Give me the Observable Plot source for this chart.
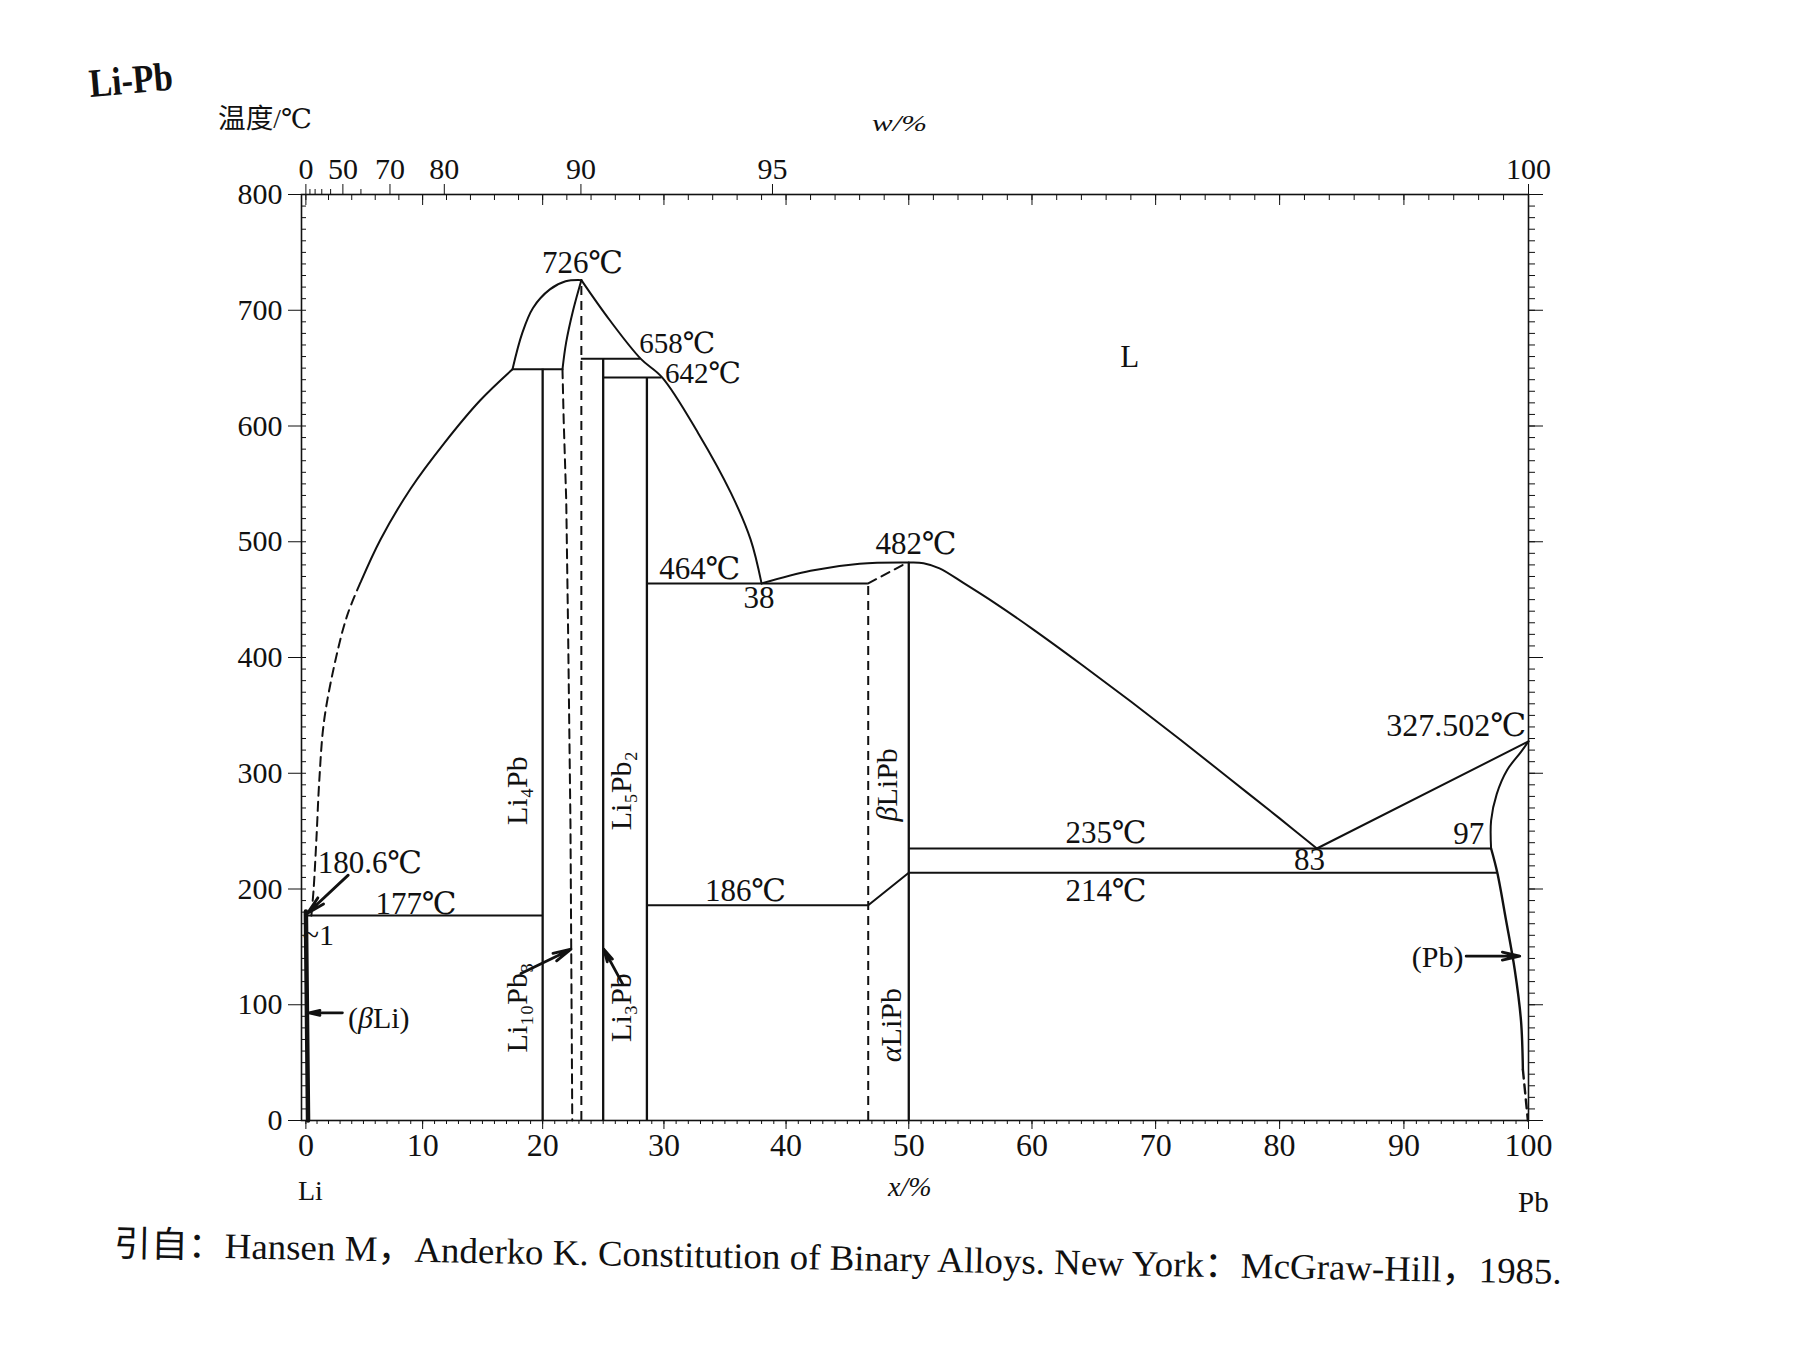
<!DOCTYPE html>
<html><head><meta charset="utf-8">
<script src="https://cdn.jsdelivr.net/npm/d3@7"></script>
<script src="https://cdn.jsdelivr.net/npm/@observablehq/plot@0.6"></script>
<style>
body{margin:0;background:#fff;}
#wrap{position:relative;width:1795px;height:1346px;overflow:hidden;background:#fff;color:#111;}
#wrap svg{position:absolute;left:0;top:0;}
.t{position:absolute;white-space:nowrap;line-height:1;font-family:"Liberation Serif","DejaVu Serif","Noto Sans CJK SC",serif;color:#111;}
</style></head><body><div id="wrap"></div>
<script>
// ---------- axis ticks ----------
const tempTicks = [0, 100, 200, 300, 400, 500, 600, 700, 800];
const atTicks = [0, 10, 20, 30, 40, 50, 60, 70, 80, 90, 100];
const wLabeled = [0, 50, 70, 80, 90, 95, 100];
const wUnlabeled = [10, 20, 30, 40, 60];
const massLi = 6.941, massPb = 207.2;

// ---------- phase boundaries (x = at.% Pb, y = °C) ----------
const liLiquidusDashedX = [0.5, 0.7, 0.95, 1.2, 1.6, 2.5, 3.6, 4.8];
const liLiquidusDashedY = [177, 200, 244, 294, 344, 393, 436, 466];
const liLiquidusX = [4.8, 6.45, 9.0, 11.8, 14.8, 17.5];
const liLiquidusY = [466, 502, 546, 585, 622, 649];
const domeLeftX = [17.5, 18.3, 19.2, 20.6, 21.9, 23.2];
const domeLeftY = [649, 680, 702, 718, 725, 726];
const li7Pb2SolidusX = [21.64, 21.94, 22.52, 23.2];
const li7Pb2SolidusY = [649, 672, 700, 726];
const li7Pb2DashedX = [21.64, 21.74, 21.95, 22.1, 22.3, 22.45];
const li7Pb2DashedY = [649, 605, 536, 427, 256, 0];
const liquidusMidX = [23.2, 25.5, 28.1, 29.85, 32.8, 35.5, 37.1, 38.0];
const liquidusMidY = [726, 692, 658, 642, 594, 542, 502, 464];
const liPbLeftX = [38, 42, 46, 50];
const liPbLeftY = [464, 475, 481, 482];
const liPbRightX = [50, 51.2, 52.5, 54.5, 57, 60, 64, 68, 72, 76, 80, 83];
const liPbRightY = [482, 481.5, 477, 464, 447, 425, 394, 362, 329, 295, 261, 235];
const pbLiquidusX = [83, 100];
const pbLiquidusY = [235, 327.502];
const pbSolidusX = [97, 97.0, 97.45, 98.3, 99.4, 100];
const pbSolidusY = [235, 259, 282, 303, 318.5, 327.502];
const pbSolvusX = [97, 97.5, 98.2, 98.9, 99.4, 99.55];
const pbSolvusY = [235, 214, 173, 130, 86, 44];
const pbSolvusDashedX = [99.55, 99.95];
const pbSolvusDashedY = [44, 0];
const betaLiX = [0.0, 0.2];
const betaLiY = [180.6, 0];
const betaLinkX = [46.7, 49.7];
const betaLinkY = [464, 481];
const alphaBetaX = [46.7, 50];
const alphaBetaY = [186, 214];

// isotherms
const isoT    = [649, 658, 642, 464, 186, 177, 235, 214];
const isoFrom = [17.5, 23.2, 25, 28.6, 28.6, 0, 50, 50];
const isoTo   = [21.64, 28.1, 29.85, 46.7, 46.7, 20, 97, 97.5];
// compounds (solid verticals)
const compoundX   = [20, 25, 28.6, 50];
const compoundTop = [649, 658, 642, 482];
// dashed verticals
const dashVX   = [23.2, 46.7];
const dashVTop = [726, 464];

// ---------- labels ----------
const labelText = ["726℃","658℃","642℃","464℃","38","482℃","L","235℃","214℃","83","97","327.502℃","(Pb)","(βLi)","180.6℃","177℃","~1","186℃"];
const labelX    = [23.3, 31.1, 33.2, 32.95, 37.8, 50.6, 67.9, 66.0, 66.0, 82.4, 95.2, 94.2, 92.7, 6.3, 5.56, 9.44, 1.12, 36.7];
const labelY    = [741, 671.5, 645, 476.5, 451, 498, 659.7, 248.5, 198, 224.7, 247.8, 341, 141, 88, 222.6, 186.7, 160, 198];
const labelSize = [31, 29, 29, 31, 31, 31, 31, 31, 31, 31, 31, 32, 30, 30, 31, 31, 30, 31];
const rotText = ["Li₄Pb", "Li₁₀Pb₃", "Li₃Pb", "Li₅Pb₂", "βLiPb", "αLiPb"];
const rotX    = [17.9, 17.9, 26.5, 26.5, 48.3, 48.6];
const rotY    = [285, 97.6, 97.6, 285, 290, 82.4];
// arrows
const arrowX1 = [3.7, 3.2, 18.2, 26.6, 95.0];
const arrowY1 = [212, 93, 127, 118, 142];
const arrowX2 = [0.15, 0.3, 22.35, 25.05, 99.3];
const arrowY2 = [179, 93, 148, 148, 142];

// ---------- helpers ----------
const serif = '"Liberation Serif","DejaVu Serif","Noto Sans CJK SC",serif';
const pts = (xs, ys) => xs.map((x, i) => ({x, y: ys[i]}));
const wToAt = w => { if (w >= 100) return 100; const a = w / massPb, b = (100 - w) / massLi; return 100 * a / (a + b); };
const wLabelMap = new Map(wLabeled.map(w => [wToAt(w), String(w)]));
const ink = "#111";
const solid = {stroke: ink, strokeWidth: 2};
const dashed = {stroke: ink, strokeWidth: 2, strokeDasharray: "9,6"};
const yMinor = d3.range(0, 801, 10);
const xMinor = d3.range(0, 101, 1);
const topMinor = d3.range(0, 101, 2);

const isoRows = isoT.map((t, i) => ({t, from: isoFrom[i], to: isoTo[i]}));
const compRows = compoundX.map((x, i) => ({x, lo: 0, hi: compoundTop[i]}));
const dashRows = dashVX.map((x, i) => ({x, lo: 0, hi: dashVTop[i]}));
const labelRows = labelText.map((text, i) => ({text, x: labelX[i], y: labelY[i], s: labelSize[i]}));
const rotRows = rotText.map((text, i) => ({text, x: rotX[i], y: rotY[i]}));
const arrowRows = arrowX1.map((x1, i) => ({x1, y1: arrowY1[i], x2: arrowX2[i], y2: arrowY2[i]}));

const chart = Plot.plot({
  width: 1795, height: 1346,
  marginLeft: 301, marginRight: 267, marginTop: 194, marginBottom: 226,
  x: {type: "pow", exponent: 1.02, domain: [-0.4, 100]},
  y: {domain: [0, 800]},
  style: {fontFamily: serif, fontSize: "30px", color: ink, background: "white", overflow: "visible"},
  marks: [
    Plot.frame({stroke: ink, strokeWidth: 1.6}),
    Plot.axisY(tempTicks, {anchor: "left", tickSize: 13, tickPadding: 6, fontSize: 30, fontFamily: serif, label: null}),
    Plot.axisY(yMinor, {anchor: "left", tickSize: 5, dx: 5, tickFormat: () => "", label: null}),
    Plot.axisY(tempTicks, {anchor: "right", tickSize: 14, tickFormat: () => "", label: null}),
    Plot.axisY(yMinor, {anchor: "right", tickSize: 6, tickFormat: () => "", label: null}),
    Plot.axisX(atTicks, {anchor: "bottom", tickSize: 9, tickPadding: 4, fontSize: 32, fontFamily: serif, label: null}),
    Plot.axisX(xMinor, {anchor: "bottom", tickSize: 4, tickFormat: () => "", label: null}),
    Plot.axisX(atTicks, {anchor: "top", tickSize: 10, dy: 10, tickFormat: () => "", label: null}),
    Plot.axisX(topMinor, {anchor: "top", tickSize: 5, dy: 5, tickFormat: () => "", label: null}),
    Plot.axisX(wLabeled.map(wToAt), {anchor: "top", tickSize: 11, tickPadding: 5, fontSize: 30, fontFamily: serif, tickFormat: d => wLabelMap.get(d), label: null}),
    Plot.axisX(wUnlabeled.map(wToAt), {anchor: "top", tickSize: 6, tickFormat: () => "", label: null}),

    Plot.line(pts(liLiquidusDashedX, liLiquidusDashedY), {x: "x", y: "y", curve: "catmull-rom", ...dashed}),
    Plot.line(pts(liLiquidusX, liLiquidusY), {x: "x", y: "y", curve: "catmull-rom", ...solid}),
    Plot.line(pts(domeLeftX, domeLeftY), {x: "x", y: "y", curve: "catmull-rom", ...solid}),
    Plot.line(pts(li7Pb2SolidusX, li7Pb2SolidusY), {x: "x", y: "y", curve: "catmull-rom", ...solid}),
    Plot.line(pts(li7Pb2DashedX, li7Pb2DashedY), {x: "x", y: "y", ...dashed}),
    Plot.line(pts(liquidusMidX, liquidusMidY), {x: "x", y: "y", curve: "catmull-rom", ...solid}),
    Plot.line(pts(liPbLeftX, liPbLeftY), {x: "x", y: "y", curve: "catmull-rom", ...solid}),
    Plot.line(pts(liPbRightX, liPbRightY), {x: "x", y: "y", curve: "catmull-rom", ...solid}),
    Plot.line(pts(pbLiquidusX, pbLiquidusY), {x: "x", y: "y", ...solid}),
    Plot.line(pts(pbSolidusX, pbSolidusY), {x: "x", y: "y", curve: "catmull-rom", ...solid}),
    Plot.line(pts(pbSolvusX, pbSolvusY), {x: "x", y: "y", curve: "catmull-rom", ...solid, strokeWidth: 2.4}),
    Plot.line(pts(pbSolvusDashedX, pbSolvusDashedY), {x: "x", y: "y", ...dashed, strokeWidth: 2.4}),
    Plot.line(pts(betaLiX, betaLiY), {x: "x", y: "y", stroke: ink, strokeWidth: 4.5}),
    Plot.line(pts(betaLinkX, betaLinkY), {x: "x", y: "y", ...dashed}),
    Plot.line(pts(alphaBetaX, alphaBetaY), {x: "x", y: "y", ...solid}),

    Plot.ruleY(isoRows, {y: "t", x1: "from", x2: "to", ...solid}),
    Plot.ruleX(compRows, {x: "x", y1: "lo", y2: "hi", ...solid, strokeWidth: 2.3}),
    Plot.ruleX(dashRows, {x: "x", y1: "lo", y2: "hi", ...dashed}),

    Plot.arrow(arrowRows, {x1: "x1", y1: "y1", x2: "x2", y2: "y2", stroke: ink, strokeWidth: 2.8, headLength: 15, headAngle: 26}),
    Plot.text(labelRows, {x: "x", y: "y", text: "text", fontSize: "s", fontFamily: serif, fill: ink}),
    Plot.text(rotRows, {x: "x", y: "y", text: "text", rotate: -90, fontSize: 30, fontFamily: serif, fill: ink})
  ]
});

// italic Greek letters
d3.select(chart).selectAll("text").each(function () {
  const t = this.textContent;
  const m = t.match(/^(\(?)([αβ])(.*)$/);
  if (m && this.childElementCount === 0) {
    this.textContent = "";
    const s = d3.select(this);
    if (m[1]) s.append("tspan").text(m[1]);
    s.append("tspan").attr("font-style", "italic").text(m[2]);
    s.append("tspan").text(m[3]);
  }
});

const wrap = document.getElementById("wrap");
wrap.appendChild(chart);

function addText(txt, o) {
  const el = document.createElement("div");
  el.className = "t";
  el.textContent = txt;
  el.style.fontSize = o.size + "px";
  if (o.weight) el.style.fontWeight = o.weight;
  if (o.italic) el.style.fontStyle = "italic";
  el.style.left = o.left + "px";
  el.style.top = (o.cy - o.size / 2) + "px";
  wrap.appendChild(el);
  let tf = "";
  if (o.fit) { const w = el.getBoundingClientRect().width; tf += ` scaleX(${o.fit / w})`; }
  if (o.rot) tf = `rotate(${o.rot}deg)` + tf;
  el.style.transformOrigin = "left center";
  if (tf) el.style.transform = tf;
  return el;
}
addText("Li-Pb", {left: 89, cy: 84, size: 40, weight: "bold", fit: 84, rot: -5});
addText("温度/℃", {left: 218, cy: 119, size: 27, fit: 94});
addText("w/%", {left: 872, cy: 123, size: 24, italic: true, fit: 55});
addText("Li", {left: 298, cy: 1191, size: 28});
addText("x/%", {left: 888, cy: 1187, size: 28, italic: true});
addText("Pb", {left: 1518, cy: 1202, size: 29});
addText("引自：Hansen M，Anderko K.  Constitution of Binary Alloys. New York：McGraw-Hill，1985.", {left: 114, cy: 1244, size: 36, fit: 1448, rot: 1.1});
</script></body></html>
